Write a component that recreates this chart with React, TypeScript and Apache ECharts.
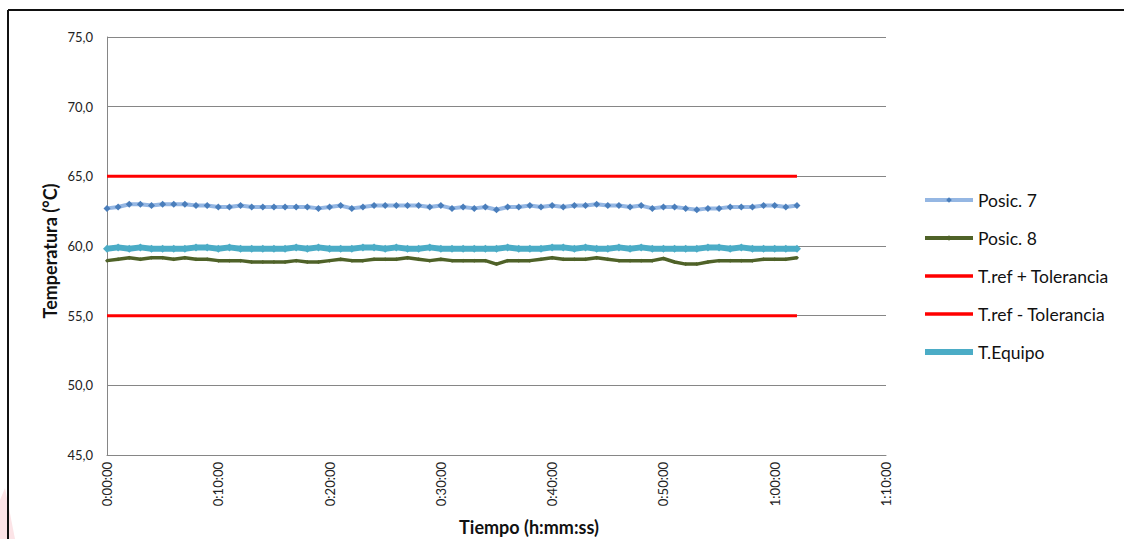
import { useEffect, useRef } from "react";
import * as echarts from "echarts";

const minutes = [
  0, 1, 2, 3, 4, 5, 6, 7, 8, 9, 10, 11, 12, 13, 14, 15, 16, 17, 18, 19, 20,
  21, 22, 23, 24, 25, 26, 27, 28, 29, 30, 31, 32, 33, 34, 35, 36, 37, 38, 39,
  40, 41, 42, 43, 44, 45, 46, 47, 48, 49, 50, 51, 52, 53, 54, 55, 56, 57, 58,
  59, 60, 61, 62,
];

const posic7 = [
  62.7, 62.8, 63.0, 63.0, 62.9, 63.0, 63.0, 63.0, 62.9, 62.9, 62.8, 62.8, 62.9,
  62.8, 62.8, 62.8, 62.8, 62.8, 62.8, 62.7, 62.8, 62.9, 62.7, 62.8, 62.9, 62.9,
  62.9, 62.9, 62.9, 62.8, 62.9, 62.7, 62.8, 62.7, 62.8, 62.6, 62.8, 62.8, 62.9,
  62.8, 62.9, 62.8, 62.9, 62.9, 63.0, 62.9, 62.9, 62.8, 62.9, 62.7, 62.8, 62.8,
  62.7, 62.6, 62.7, 62.7, 62.8, 62.8, 62.8, 62.9, 62.9, 62.8, 62.9,
];

const posic8 = [
  58.95, 59.05, 59.15, 59.05, 59.15, 59.15, 59.05, 59.15, 59.05, 59.05, 58.95,
  58.95, 58.95, 58.85, 58.85, 58.85, 58.85, 58.95, 58.85, 58.85, 58.95, 59.05,
  58.95, 58.95, 59.05, 59.05, 59.05, 59.15, 59.05, 58.95, 59.05, 58.95, 58.95,
  58.95, 58.95, 58.7, 58.95, 58.95, 58.95, 59.05, 59.15, 59.05, 59.05, 59.05,
  59.15, 59.05, 58.95, 58.95, 58.95, 58.95, 59.1, 58.85, 58.7, 58.7, 58.85,
  58.95, 58.95, 58.95, 58.95, 59.05, 59.05, 59.05, 59.15,
];

const tEquipo = [
  59.8, 59.9, 59.8, 59.9, 59.8, 59.8, 59.8, 59.8, 59.9, 59.9, 59.8, 59.9, 59.8,
  59.8, 59.8, 59.8, 59.8, 59.9, 59.8, 59.9, 59.8, 59.8, 59.8, 59.9, 59.9, 59.8,
  59.9, 59.8, 59.8, 59.9, 59.8, 59.8, 59.8, 59.8, 59.8, 59.8, 59.9, 59.8, 59.8,
  59.8, 59.9, 59.9, 59.8, 59.9, 59.8, 59.8, 59.9, 59.8, 59.9, 59.8, 59.8, 59.8,
  59.8, 59.8, 59.9, 59.9, 59.8, 59.9, 59.8, 59.8, 59.8, 59.8, 59.8,
];

const refMinutes = [0, 62];
const refUpper = [65, 65];
const refLower = [55, 55];

const seriesNames = [
  "Posic. 7",
  "Posic. 8",
  "T.ref + Tolerancia",
  "T.ref - Tolerancia",
  "T.Equipo",
];

const FONT = "Lato, 'Open Sans', sans-serif";
const RED_ICON = "path://M0,0H48V3.5H0Z";

function pairs(xs: number[], ys: number[]) {
  return xs.map((x, i) => [x, ys[i]]);
}

function fmtTime(v: number) {
  const h = Math.floor(v / 60);
  const m = v % 60;
  return `${h}:${String(m).padStart(2, "0")}:00`;
}

export default function App() {
  const ref = useRef<HTMLDivElement>(null);

  useEffect(() => {
    const chart = echarts.init(ref.current!, null, { renderer: "svg" });
    chart.setOption({
      animation: false,
      backgroundColor: "#ffffff",
      grid: { left: 107, top: 37, width: 779, height: 418, containLabel: false },
      xAxis: {
        type: "value",
        min: 0,
        max: 70,
        interval: 10,
        axisLine: { show: true, lineStyle: { color: "#868686", width: 1 } },
        axisTick: { show: false },
        splitLine: { show: false },
        axisLabel: {
          rotate: 90,
          margin: 7,
          color: "#222",
          fontFamily: FONT,
          fontSize: 13,
          formatter: (v: number) => fmtTime(v),
        },
      },
      yAxis: {
        type: "value",
        min: 45,
        max: 75,
        interval: 5,
        axisLine: { show: true, lineStyle: { color: "#868686", width: 1 } },
        axisTick: { show: false },
        splitLine: { show: true, lineStyle: { color: "#868686", width: 1 } },
        axisLabel: {
          margin: 14,
          color: "#222",
          fontFamily: FONT,
          fontSize: 13,
          formatter: (v: number) => v.toFixed(1).replace(".", ","),
        },
      },
      legend: {
        orient: "vertical",
        left: 917,
        top: 186,
        itemWidth: 48,
        itemHeight: 7,
        itemGap: 20,
        data: [
          { name: seriesNames[0], lineStyle: { width: 4 } },
          { name: seriesNames[1], lineStyle: { width: 4 } },
          { name: seriesNames[2], icon: RED_ICON },
          { name: seriesNames[3], icon: RED_ICON },
          { name: seriesNames[4], lineStyle: { width: 6 } },
        ],
        textStyle: { fontFamily: FONT, fontSize: 17.5, color: "#111" },
      },
      series: [
        {
          name: seriesNames[0],
          type: "line",
          data: pairs(minutes, posic7),
          symbol: "diamond",
          symbolSize: 7,
          itemStyle: { color: "#4a7ebb" },
          lineStyle: { color: "#95b7e3", width: 4 },
          z: 2,
        },
        {
          name: seriesNames[1],
          type: "line",
          data: pairs(minutes, posic8),
          symbol: "diamond",
          symbolSize: 4,
          itemStyle: { color: "#4f6228" },
          lineStyle: { color: "#4f6228", width: 3.5 },
          z: 3,
        },
        {
          name: seriesNames[2],
          type: "line",
          data: pairs(refMinutes, refUpper),
          showSymbol: false,
          symbol: "none",
          itemStyle: { color: "#ff0000" },
          lineStyle: { color: "#ff0000", width: 3 },
          z: 4,
        },
        {
          name: seriesNames[3],
          type: "line",
          data: pairs(refMinutes, refLower),
          showSymbol: false,
          symbol: "none",
          itemStyle: { color: "#ff0000" },
          lineStyle: { color: "#ff0000", width: 3 },
          z: 5,
        },
        {
          name: seriesNames[4],
          type: "line",
          data: pairs(minutes, tEquipo),
          symbol: "diamond",
          symbolSize: 8,
          itemStyle: { color: "#4bacc6" },
          lineStyle: { color: "#4bacc6", width: 6 },
          z: 6,
        },
      ],
      graphic: [
        {
          type: "polygon",
          silent: true,
          shape: { points: [[0, 500], [5, 488], [15, 539], [0, 539]] },
          style: { fill: "#fce4e7" },
          z: -1,
        },
        {
          type: "line",
          silent: true,
          shape: { x1: 8, y1: 10, x2: 1124, y2: 10 },
          style: { stroke: "#111", lineWidth: 2 },
        },
        {
          type: "line",
          silent: true,
          shape: { x1: 8, y1: 10, x2: 8, y2: 539 },
          style: { stroke: "#111", lineWidth: 2 },
        },
        {
          type: "text",
          silent: true,
          x: 50,
          y: 251,
          rotation: Math.PI / 2,
          style: {
            text: "Temperatura (°C)",
            fontFamily: FONT,
            fontWeight: "bold",
            fontSize: 18,
            fill: "#111",
            align: "center",
            verticalAlign: "middle",
          },
        },
        {
          type: "text",
          silent: true,
          x: 529,
          y: 527,
          style: {
            text: "Tiempo (h:mm:ss)",
            fontFamily: FONT,
            fontWeight: "bold",
            fontSize: 18,
            fill: "#111",
            align: "center",
            verticalAlign: "middle",
          },
        },
      ],
    });
    return () => chart.dispose();
  }, []);

  return (
    <div
      ref={ref}
      style={{
        position: "fixed",
        left: 0,
        top: 0,
        width: 1124,
        height: 539,
        background: "#fff",
      }}
    />
  );
}
